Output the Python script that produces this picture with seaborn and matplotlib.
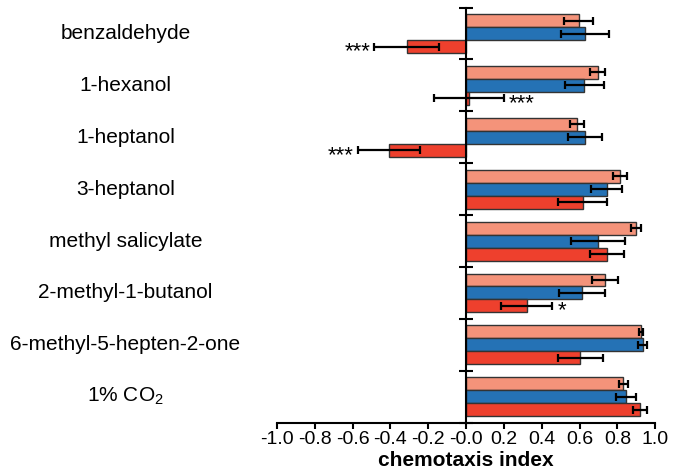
import numpy as np
import pandas as pd
import matplotlib
matplotlib.use("Agg")
import matplotlib.pyplot as plt
import seaborn as sns

# odorant categories, top to bottom
odorants = ["benzaldehyde", "1-hexanol", "1-heptanol", "3-heptanol",
            "methyl salicylate", "2-methyl-1-butanol",
            "6-methyl-5-hepten-2-one", "1% CO$_2$"]
groups = ["light", "blue", "red"]

# chemotaxis index
light_ci = [0.595, 0.696, 0.586, 0.814, 0.899, 0.736, 0.924, 0.832]
blue_ci = [0.630, 0.625, 0.630, 0.743, 0.696, 0.612, 0.935, 0.846]
red_ci = [-0.315, 0.014, -0.409, 0.618, 0.745, 0.320, 0.605, 0.920]

light_err = [0.077, 0.040, 0.037, 0.036, 0.028, 0.069, 0.010, 0.023]
blue_err = [0.126, 0.104, 0.091, 0.080, 0.143, 0.122, 0.023, 0.053]
red_err = [0.172, 0.184, 0.164, 0.130, 0.088, 0.135, 0.120, 0.035]

# significance marks on the red bars
stars = ["***", "***", "***", "", "", "*", "", ""]

colors = ["#F4937A", "#2572B5", "#EE402D"]

sns.set_style("white")
plt.rcParams["font.family"] = ["Liberation Sans", "DejaVu Sans"]
plt.rcParams["mathtext.fontset"] = "custom"
plt.rcParams["mathtext.rm"] = "Liberation Sans"
plt.rcParams["mathtext.it"] = "Liberation Sans:italic"
plt.rcParams["text.color"] = "black"
plt.rcParams["axes.labelcolor"] = "black"
plt.rcParams["xtick.color"] = "black"
plt.rcParams["ytick.color"] = "black"

df = pd.DataFrame({
    "odorant": odorants * 3,
    "group": np.repeat(groups, len(odorants)),
    "ci": light_ci + blue_ci + red_ci,
    "err": light_err + blue_err + red_err,
})

fig = plt.figure(figsize=(6.74, 4.76), dpi=100)
ax = fig.add_axes([0.411, 0.112, 0.561, 0.872])

sns.barplot(data=df, y="odorant", x="ci", hue="group", hue_order=groups,
            palette=colors, saturation=1, orient="h", width=0.75,
            errorbar=None, edgecolor="#333333", linewidth=1, legend=False,
            ax=ax)

# error bars at bar centers (patches come out group by group)
bars = [p for p in ax.patches if p.get_height() > 0][:len(df)]
for p, (_, row) in zip(bars, df.iterrows()):
    yc = p.get_y() + p.get_height() / 2
    ax.errorbar(row["ci"], yc, xerr=row["err"], fmt="none", ecolor="black",
                elinewidth=1.6, capsize=3, capthick=1.6, zorder=5)

red_bars = bars[2 * len(odorants):]
for p, v, e, s in zip(red_bars, red_ci, red_err, stars):
    if not s:
        continue
    yc = p.get_y() + p.get_height() / 2
    if v < 0:
        ax.text(v - e - 0.02, yc + 0.1, s, ha="right", va="center", fontsize=16)
    else:
        ax.text(v + e + 0.03, yc + 0.1, s, ha="left", va="center", fontsize=16)

ax.set_xlim(-1.0, 1.0)
ax.set_ylim(len(odorants) - 0.5, -0.5)

for side in ["top", "right"]:
    ax.spines[side].set_visible(False)
ax.spines["left"].set_position(("data", 0))
ax.spines["left"].set_linewidth(1.5)
ax.spines["bottom"].set_linewidth(1.5)
for sp in ax.spines.values():
    sp.set_color("black")

ax.set_yticks(np.arange(-0.5, len(odorants), 1.0))
ax.set_yticklabels([])
ax.tick_params(axis="y", direction="inout", length=10, width=1.5, left=True)
ax.set_ylabel("")

ax.set_xticks(np.arange(-1.0, 1.01, 0.2))
ax.set_xticklabels([f"{t:.1f}" for t in np.arange(-1.0, 1.01, 0.2)])
ax.tick_params(axis="x", direction="out", length=4, width=1.5, bottom=True,
               labelsize=14, pad=2)
ax.set_xlabel("chemotaxis index", fontsize=15, fontweight="bold", labelpad=2)

# category names, centred in the left margin
tr = matplotlib.transforms.blended_transform_factory(fig.transFigure, ax.transData)
for i, name in enumerate(odorants):
    ax.text(0.186, i, name, transform=tr, ha="center", va="center", fontsize=15)

fig.savefig("out.png", dpi=100)
